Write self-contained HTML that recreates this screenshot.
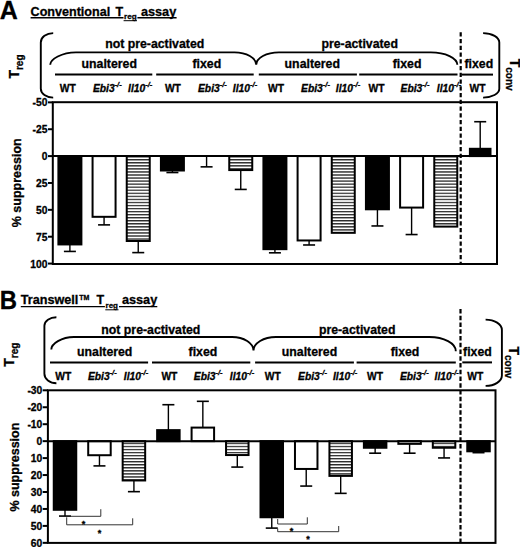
<!DOCTYPE html>
<html><head><meta charset="utf-8"><style>
html,body{margin:0;padding:0;background:#fff;}
svg{display:block;}
text{font-family:"Liberation Sans", sans-serif;fill:#000;stroke:#000;stroke-width:0.3px;}
</style></head><body>
<svg width="520" height="547" viewBox="0 0 520 547">
<defs>
<pattern id="hatch" patternUnits="userSpaceOnUse" width="6" height="3.05" y="0.5">
<rect width="6" height="3.05" fill="#fff"/><rect y="0" width="6" height="1.3" fill="#2a2a2a"/>
</pattern>
</defs>
<rect width="520" height="547" fill="#fff"/>
<path d="M53.2,33.1 C46.35,33.1 40.8,37.26 40.8,42.4 L40.8,88.7 C40.8,93.62 46.35,97.6 53.2,97.6" fill="none" stroke="#000" stroke-width="1.9"/>
<path d="M483.1,33.1 C492.05,33.1 499.3,37.31 499.3,42.5 L499.3,88.8 C499.3,93.66 492.05,97.6 483.1,97.6" fill="none" stroke="#000" stroke-width="1.9"/>
<path d="M50.2,64.8 C50.2,59.25 61.75,52.4 76,52.4 L234.5,52.4 C246.48,52.4 256.2,57.95 256.2,64.8 C256.2,57.95 266.41,52.4 279,52.4 L430.8,52.4 C445.44,52.4 457.3,57.95 457.3,64.8" fill="none" stroke="#000" stroke-width="1.9"/>
<text x="154.70" y="47.60" font-size="12.3" text-anchor="middle" font-weight="bold" font-style="normal" >not pre-activated</text>
<text x="359.70" y="47.60" font-size="12.3" text-anchor="middle" font-weight="bold" font-style="normal" >pre-activated</text>
<text x="109.25" y="67.60" font-size="12.3" text-anchor="middle" font-weight="bold" font-style="normal" >unaltered</text>
<text x="206.80" y="67.60" font-size="12.3" text-anchor="middle" font-weight="bold" font-style="normal" >fixed</text>
<text x="312.30" y="67.60" font-size="12.3" text-anchor="middle" font-weight="bold" font-style="normal" >unaltered</text>
<text x="407.10" y="67.60" font-size="12.3" text-anchor="middle" font-weight="bold" font-style="normal" >fixed</text>
<text x="478.80" y="67.60" font-size="12.3" text-anchor="middle" font-weight="bold" font-style="normal" >fixed</text>
<line x1="55" y1="74.6" x2="152.3" y2="74.6" stroke="#000" stroke-width="2"/>
<line x1="156.2" y1="74.6" x2="253.7" y2="74.6" stroke="#000" stroke-width="2"/>
<line x1="258.8" y1="74.6" x2="356.9" y2="74.6" stroke="#000" stroke-width="2"/>
<line x1="359.2" y1="74.6" x2="457.5" y2="74.6" stroke="#000" stroke-width="2"/>
<line x1="461.3" y1="74.6" x2="493" y2="74.6" stroke="#000" stroke-width="2"/>
<text x="67.80" y="92.20" font-size="10.3" text-anchor="middle" font-weight="bold" font-style="normal" >WT</text>
<text x="107.30" y="92.20" font-size="10.3" text-anchor="middle" font-weight="bold" font-style="italic">Ebi3<tspan font-size="7.5" dy="-5.6" font-style="italic">-/-</tspan></text>
<text x="140.20" y="92.20" font-size="10.3" text-anchor="middle" font-weight="bold" font-style="italic">Il10<tspan font-size="7.5" dy="-5.6" font-style="italic">-/-</tspan></text>
<text x="172.90" y="92.20" font-size="10.3" text-anchor="middle" font-weight="bold" font-style="normal" >WT</text>
<text x="212.40" y="92.20" font-size="10.3" text-anchor="middle" font-weight="bold" font-style="italic">Ebi3<tspan font-size="7.5" dy="-5.6" font-style="italic">-/-</tspan></text>
<text x="245.00" y="92.20" font-size="10.3" text-anchor="middle" font-weight="bold" font-style="italic">Il10<tspan font-size="7.5" dy="-5.6" font-style="italic">-/-</tspan></text>
<text x="276.00" y="92.20" font-size="10.3" text-anchor="middle" font-weight="bold" font-style="normal" >WT</text>
<text x="315.50" y="92.20" font-size="10.3" text-anchor="middle" font-weight="bold" font-style="italic">Ebi3<tspan font-size="7.5" dy="-5.6" font-style="italic">-/-</tspan></text>
<text x="348.00" y="92.20" font-size="10.3" text-anchor="middle" font-weight="bold" font-style="italic">Il10<tspan font-size="7.5" dy="-5.6" font-style="italic">-/-</tspan></text>
<text x="376.50" y="92.20" font-size="10.3" text-anchor="middle" font-weight="bold" font-style="normal" >WT</text>
<text x="415.00" y="92.20" font-size="10.3" text-anchor="middle" font-weight="bold" font-style="italic">Ebi3<tspan font-size="7.5" dy="-5.6" font-style="italic">-/-</tspan></text>
<text x="449.00" y="92.20" font-size="10.3" text-anchor="middle" font-weight="bold" font-style="italic">Il10<tspan font-size="7.5" dy="-5.6" font-style="italic">-/-</tspan></text>
<text x="477.50" y="92.20" font-size="10.3" text-anchor="middle" font-weight="bold" font-style="normal" >WT</text>
<line x1="460.7" y1="32.2" x2="460.7" y2="264" stroke="#000" stroke-width="2.2" stroke-dasharray="4.3 2.45"/>
<rect x="52.8" y="102.2" width="444.2" height="161.8" fill="none" stroke="#000" stroke-width="2"/>
<line x1="48.0" y1="102.36" x2="52.8" y2="102.36" stroke="#000" stroke-width="2"/>
<text x="47.50" y="106.46" font-size="10.3" text-anchor="end" font-weight="bold" font-style="normal" >-50</text>
<line x1="48.0" y1="129.23" x2="52.8" y2="129.23" stroke="#000" stroke-width="2"/>
<text x="47.50" y="133.33" font-size="10.3" text-anchor="end" font-weight="bold" font-style="normal" >-25</text>
<line x1="48.0" y1="156.10" x2="52.8" y2="156.10" stroke="#000" stroke-width="2"/>
<text x="47.50" y="160.20" font-size="10.3" text-anchor="end" font-weight="bold" font-style="normal" >0</text>
<line x1="48.0" y1="182.97" x2="52.8" y2="182.97" stroke="#000" stroke-width="2"/>
<text x="47.50" y="187.07" font-size="10.3" text-anchor="end" font-weight="bold" font-style="normal" >25</text>
<line x1="48.0" y1="209.83" x2="52.8" y2="209.83" stroke="#000" stroke-width="2"/>
<text x="47.50" y="213.93" font-size="10.3" text-anchor="end" font-weight="bold" font-style="normal" >50</text>
<line x1="48.0" y1="236.70" x2="52.8" y2="236.70" stroke="#000" stroke-width="2"/>
<text x="47.50" y="240.80" font-size="10.3" text-anchor="end" font-weight="bold" font-style="normal" >75</text>
<line x1="48.0" y1="263.57" x2="52.8" y2="263.57" stroke="#000" stroke-width="2"/>
<text x="47.50" y="267.67" font-size="10.3" text-anchor="end" font-weight="bold" font-style="normal" >100</text>
<line x1="69.90" y1="244.44" x2="69.90" y2="251.43" stroke="#000" stroke-width="1.4"/>
<line x1="63.90" y1="251.43" x2="75.90" y2="251.43" stroke="#000" stroke-width="1.6"/>
<rect x="58.40" y="156.10" width="23.00" height="88.34" fill="#000" stroke="#000" stroke-width="2"/>
<line x1="104.07" y1="216.82" x2="104.07" y2="224.88" stroke="#000" stroke-width="1.4"/>
<line x1="98.07" y1="224.88" x2="110.07" y2="224.88" stroke="#000" stroke-width="1.6"/>
<rect x="92.57" y="156.10" width="23.00" height="60.72" fill="#fff" stroke="#000" stroke-width="2"/>
<line x1="138.24" y1="241.00" x2="138.24" y2="252.61" stroke="#000" stroke-width="1.4"/>
<line x1="132.24" y1="252.61" x2="144.24" y2="252.61" stroke="#000" stroke-width="1.6"/>
<rect x="126.74" y="156.10" width="23.00" height="84.90" fill="url(#hatch)" stroke="#000" stroke-width="2"/>
<line x1="172.41" y1="170.50" x2="172.41" y2="172.54" stroke="#000" stroke-width="1.4"/>
<line x1="166.41" y1="172.54" x2="178.41" y2="172.54" stroke="#000" stroke-width="1.6"/>
<rect x="160.91" y="156.10" width="23.00" height="14.40" fill="#000" stroke="#000" stroke-width="2"/>
<line x1="206.58" y1="156.10" x2="206.58" y2="166.85" stroke="#000" stroke-width="1.4"/>
<line x1="200.58" y1="166.85" x2="212.58" y2="166.85" stroke="#000" stroke-width="1.6"/>
<line x1="240.75" y1="170.07" x2="240.75" y2="189.42" stroke="#000" stroke-width="1.4"/>
<line x1="234.75" y1="189.42" x2="246.75" y2="189.42" stroke="#000" stroke-width="1.6"/>
<rect x="229.25" y="156.10" width="23.00" height="13.97" fill="url(#hatch)" stroke="#000" stroke-width="2"/>
<line x1="274.92" y1="249.17" x2="274.92" y2="252.82" stroke="#000" stroke-width="1.4"/>
<line x1="268.92" y1="252.82" x2="280.92" y2="252.82" stroke="#000" stroke-width="1.6"/>
<rect x="263.42" y="156.10" width="23.00" height="93.07" fill="#000" stroke="#000" stroke-width="2"/>
<line x1="309.09" y1="240.46" x2="309.09" y2="244.98" stroke="#000" stroke-width="1.4"/>
<line x1="303.09" y1="244.98" x2="315.09" y2="244.98" stroke="#000" stroke-width="1.6"/>
<rect x="297.59" y="156.10" width="23.00" height="84.36" fill="#fff" stroke="#000" stroke-width="2"/>
<rect x="331.76" y="156.10" width="23.00" height="76.73" fill="url(#hatch)" stroke="#000" stroke-width="2"/>
<line x1="377.43" y1="209.30" x2="377.43" y2="225.96" stroke="#000" stroke-width="1.4"/>
<line x1="371.43" y1="225.96" x2="383.43" y2="225.96" stroke="#000" stroke-width="1.6"/>
<rect x="365.93" y="156.10" width="23.00" height="53.20" fill="#000" stroke="#000" stroke-width="2"/>
<line x1="411.60" y1="207.58" x2="411.60" y2="234.55" stroke="#000" stroke-width="1.4"/>
<line x1="405.60" y1="234.55" x2="417.60" y2="234.55" stroke="#000" stroke-width="1.6"/>
<rect x="400.10" y="156.10" width="23.00" height="51.48" fill="#fff" stroke="#000" stroke-width="2"/>
<rect x="434.27" y="156.10" width="23.00" height="70.50" fill="url(#hatch)" stroke="#000" stroke-width="2"/>
<line x1="480.20" y1="148.79" x2="480.20" y2="121.71" stroke="#000" stroke-width="1.4"/>
<line x1="474.20" y1="121.71" x2="486.20" y2="121.71" stroke="#000" stroke-width="1.6"/>
<rect x="469.90" y="148.79" width="20.60" height="7.31" fill="#000" stroke="#000" stroke-width="2"/>
<line x1="52.8" y1="156.10" x2="497" y2="156.10" stroke="#000" stroke-width="2"/>
<path d="M56.4,317.2 C49.77,317.2 44.4,321.05 44.4,325.8 L44.4,373.8 C44.4,379.05 49.77,383.3 56.4,383.3" fill="none" stroke="#000" stroke-width="1.9"/>
<path d="M485.6,319.6 C494.60,319.6 501.9,324.26 501.9,330 L501.9,375.5 C501.9,381.24 494.60,385.9 485.6,385.9" fill="none" stroke="#000" stroke-width="1.9"/>
<path d="M51.3,349.4 C51.3,343.85 61.46,337 74,337 L232,337 C243.87,337 253.5,343.09 253.5,350.6 C253.5,343.09 263.57,337 276,337 L429.3,337 C443.94,337 455.8,343.36 455.8,351.2" fill="none" stroke="#000" stroke-width="1.9"/>
<text x="150.85" y="334.30" font-size="12.3" text-anchor="middle" font-weight="bold" font-style="normal" >not pre-activated</text>
<text x="357.15" y="334.30" font-size="12.3" text-anchor="middle" font-weight="bold" font-style="normal" >pre-activated</text>
<text x="104.70" y="355.50" font-size="12.3" text-anchor="middle" font-weight="bold" font-style="normal" >unaltered</text>
<text x="202.90" y="355.50" font-size="12.3" text-anchor="middle" font-weight="bold" font-style="normal" >fixed</text>
<text x="309.50" y="355.50" font-size="12.3" text-anchor="middle" font-weight="bold" font-style="normal" >unaltered</text>
<text x="405.00" y="355.50" font-size="12.3" text-anchor="middle" font-weight="bold" font-style="normal" >fixed</text>
<text x="477.40" y="355.50" font-size="12.3" text-anchor="middle" font-weight="bold" font-style="normal" >fixed</text>
<line x1="50" y1="362.4" x2="148.1" y2="362.4" stroke="#000" stroke-width="2"/>
<line x1="152" y1="362.4" x2="250.3" y2="362.4" stroke="#000" stroke-width="2"/>
<line x1="255.1" y1="362.4" x2="353.9" y2="362.4" stroke="#000" stroke-width="2"/>
<line x1="356.6" y1="362.4" x2="455.8" y2="362.4" stroke="#000" stroke-width="2"/>
<line x1="462.3" y1="362.4" x2="492" y2="362.4" stroke="#000" stroke-width="2"/>
<text x="63.30" y="380.20" font-size="10.3" text-anchor="middle" font-weight="bold" font-style="normal" >WT</text>
<text x="102.30" y="380.20" font-size="10.3" text-anchor="middle" font-weight="bold" font-style="italic">Ebi3<tspan font-size="7.5" dy="-5.6" font-style="italic">-/-</tspan></text>
<text x="136.00" y="380.20" font-size="10.3" text-anchor="middle" font-weight="bold" font-style="italic">Il10<tspan font-size="7.5" dy="-5.6" font-style="italic">-/-</tspan></text>
<text x="169.40" y="380.20" font-size="10.3" text-anchor="middle" font-weight="bold" font-style="normal" >WT</text>
<text x="208.20" y="380.20" font-size="10.3" text-anchor="middle" font-weight="bold" font-style="italic">Ebi3<tspan font-size="7.5" dy="-5.6" font-style="italic">-/-</tspan></text>
<text x="242.00" y="380.20" font-size="10.3" text-anchor="middle" font-weight="bold" font-style="italic">Il10<tspan font-size="7.5" dy="-5.6" font-style="italic">-/-</tspan></text>
<text x="272.80" y="380.20" font-size="10.3" text-anchor="middle" font-weight="bold" font-style="normal" >WT</text>
<text x="312.50" y="380.20" font-size="10.3" text-anchor="middle" font-weight="bold" font-style="italic">Ebi3<tspan font-size="7.5" dy="-5.6" font-style="italic">-/-</tspan></text>
<text x="345.10" y="380.20" font-size="10.3" text-anchor="middle" font-weight="bold" font-style="italic">Il10<tspan font-size="7.5" dy="-5.6" font-style="italic">-/-</tspan></text>
<text x="375.00" y="380.20" font-size="10.3" text-anchor="middle" font-weight="bold" font-style="normal" >WT</text>
<text x="414.30" y="380.20" font-size="10.3" text-anchor="middle" font-weight="bold" font-style="italic">Ebi3<tspan font-size="7.5" dy="-5.6" font-style="italic">-/-</tspan></text>
<text x="446.70" y="380.20" font-size="10.3" text-anchor="middle" font-weight="bold" font-style="italic">Il10<tspan font-size="7.5" dy="-5.6" font-style="italic">-/-</tspan></text>
<text x="475.30" y="380.20" font-size="10.3" text-anchor="middle" font-weight="bold" font-style="normal" >WT</text>
<line x1="460.5" y1="309.1" x2="460.5" y2="543" stroke="#000" stroke-width="2.2" stroke-dasharray="4.3 2.45"/>
<rect x="47.9" y="390.3" width="447.6" height="152.59999999999997" fill="none" stroke="#000" stroke-width="2"/>
<line x1="42.699999999999996" y1="390.30" x2="47.9" y2="390.30" stroke="#000" stroke-width="2"/>
<text x="42.30" y="394.10" font-size="10.3" text-anchor="end" font-weight="bold" font-style="normal" >-30</text>
<line x1="42.699999999999996" y1="407.25" x2="47.9" y2="407.25" stroke="#000" stroke-width="2"/>
<text x="42.30" y="411.05" font-size="10.3" text-anchor="end" font-weight="bold" font-style="normal" >-20</text>
<line x1="42.699999999999996" y1="424.20" x2="47.9" y2="424.20" stroke="#000" stroke-width="2"/>
<text x="42.30" y="428.00" font-size="10.3" text-anchor="end" font-weight="bold" font-style="normal" >-10</text>
<line x1="42.699999999999996" y1="441.15" x2="47.9" y2="441.15" stroke="#000" stroke-width="2"/>
<text x="42.30" y="444.95" font-size="10.3" text-anchor="end" font-weight="bold" font-style="normal" >0</text>
<line x1="42.699999999999996" y1="458.10" x2="47.9" y2="458.10" stroke="#000" stroke-width="2"/>
<text x="42.30" y="461.90" font-size="10.3" text-anchor="end" font-weight="bold" font-style="normal" >10</text>
<line x1="42.699999999999996" y1="475.05" x2="47.9" y2="475.05" stroke="#000" stroke-width="2"/>
<text x="42.30" y="478.85" font-size="10.3" text-anchor="end" font-weight="bold" font-style="normal" >20</text>
<line x1="42.699999999999996" y1="492.00" x2="47.9" y2="492.00" stroke="#000" stroke-width="2"/>
<text x="42.30" y="495.80" font-size="10.3" text-anchor="end" font-weight="bold" font-style="normal" >30</text>
<line x1="42.699999999999996" y1="508.95" x2="47.9" y2="508.95" stroke="#000" stroke-width="2"/>
<text x="42.30" y="512.75" font-size="10.3" text-anchor="end" font-weight="bold" font-style="normal" >40</text>
<line x1="42.699999999999996" y1="525.90" x2="47.9" y2="525.90" stroke="#000" stroke-width="2"/>
<text x="42.30" y="529.70" font-size="10.3" text-anchor="end" font-weight="bold" font-style="normal" >50</text>
<line x1="42.699999999999996" y1="542.85" x2="47.9" y2="542.85" stroke="#000" stroke-width="2"/>
<text x="42.30" y="546.65" font-size="10.3" text-anchor="end" font-weight="bold" font-style="normal" >60</text>
<line x1="65.00" y1="509.80" x2="65.00" y2="516.07" stroke="#000" stroke-width="1.4"/>
<line x1="59.00" y1="516.07" x2="71.00" y2="516.07" stroke="#000" stroke-width="1.6"/>
<rect x="53.75" y="441.15" width="22.50" height="68.65" fill="#000" stroke="#000" stroke-width="2"/>
<line x1="99.46" y1="455.22" x2="99.46" y2="465.90" stroke="#000" stroke-width="1.4"/>
<line x1="93.46" y1="465.90" x2="105.46" y2="465.90" stroke="#000" stroke-width="1.6"/>
<rect x="88.21" y="441.15" width="22.50" height="14.07" fill="#fff" stroke="#000" stroke-width="2"/>
<line x1="133.92" y1="480.47" x2="133.92" y2="491.66" stroke="#000" stroke-width="1.4"/>
<line x1="127.92" y1="491.66" x2="139.92" y2="491.66" stroke="#000" stroke-width="1.6"/>
<rect x="122.67" y="441.15" width="22.50" height="39.32" fill="url(#hatch)" stroke="#000" stroke-width="2"/>
<line x1="168.38" y1="430.13" x2="168.38" y2="404.71" stroke="#000" stroke-width="1.4"/>
<line x1="162.38" y1="404.71" x2="174.38" y2="404.71" stroke="#000" stroke-width="1.6"/>
<rect x="157.13" y="430.13" width="22.50" height="11.02" fill="#000" stroke="#000" stroke-width="2"/>
<line x1="202.84" y1="427.59" x2="202.84" y2="401.32" stroke="#000" stroke-width="1.4"/>
<line x1="196.84" y1="401.32" x2="208.84" y2="401.32" stroke="#000" stroke-width="1.6"/>
<rect x="191.59" y="427.59" width="22.50" height="13.56" fill="#fff" stroke="#000" stroke-width="2"/>
<line x1="237.30" y1="455.05" x2="237.30" y2="467.08" stroke="#000" stroke-width="1.4"/>
<line x1="231.30" y1="467.08" x2="243.30" y2="467.08" stroke="#000" stroke-width="1.6"/>
<rect x="226.05" y="441.15" width="22.50" height="13.90" fill="url(#hatch)" stroke="#000" stroke-width="2"/>
<line x1="271.76" y1="517.26" x2="271.76" y2="528.10" stroke="#000" stroke-width="1.4"/>
<line x1="265.76" y1="528.10" x2="277.76" y2="528.10" stroke="#000" stroke-width="1.6"/>
<rect x="260.51" y="441.15" width="22.50" height="76.11" fill="#000" stroke="#000" stroke-width="2"/>
<line x1="306.22" y1="468.95" x2="306.22" y2="486.07" stroke="#000" stroke-width="1.4"/>
<line x1="300.22" y1="486.07" x2="312.22" y2="486.07" stroke="#000" stroke-width="1.6"/>
<rect x="294.97" y="441.15" width="22.50" height="27.80" fill="#fff" stroke="#000" stroke-width="2"/>
<line x1="340.68" y1="475.90" x2="340.68" y2="493.36" stroke="#000" stroke-width="1.4"/>
<line x1="334.68" y1="493.36" x2="346.68" y2="493.36" stroke="#000" stroke-width="1.6"/>
<rect x="329.43" y="441.15" width="22.50" height="34.75" fill="url(#hatch)" stroke="#000" stroke-width="2"/>
<line x1="375.14" y1="447.76" x2="375.14" y2="453.18" stroke="#000" stroke-width="1.4"/>
<line x1="369.14" y1="453.18" x2="381.14" y2="453.18" stroke="#000" stroke-width="1.6"/>
<rect x="363.89" y="441.15" width="22.50" height="6.61" fill="#000" stroke="#000" stroke-width="2"/>
<line x1="409.60" y1="443.86" x2="409.60" y2="453.18" stroke="#000" stroke-width="1.4"/>
<line x1="403.60" y1="453.18" x2="415.60" y2="453.18" stroke="#000" stroke-width="1.6"/>
<rect x="398.35" y="441.15" width="22.50" height="2.71" fill="#fff" stroke="#000" stroke-width="2"/>
<line x1="444.06" y1="447.76" x2="444.06" y2="457.93" stroke="#000" stroke-width="1.4"/>
<line x1="438.06" y1="457.93" x2="450.06" y2="457.93" stroke="#000" stroke-width="1.6"/>
<rect x="432.81" y="441.15" width="22.50" height="6.61" fill="url(#hatch)" stroke="#000" stroke-width="2"/>
<line x1="478.52" y1="451.32" x2="478.52" y2="452.68" stroke="#000" stroke-width="1.4"/>
<line x1="472.52" y1="452.68" x2="484.52" y2="452.68" stroke="#000" stroke-width="1.6"/>
<rect x="467.27" y="441.15" width="22.50" height="10.17" fill="#000" stroke="#000" stroke-width="2"/>
<line x1="47.9" y1="441.15" x2="495.5" y2="441.15" stroke="#000" stroke-width="2"/>
<text x="-0.3" y="18.6" font-size="25" font-weight="bold" stroke="#000" stroke-width="0.5">A</text>
<text x="30.6" y="15.8" font-size="12.5" font-weight="bold" textLength="79.6" lengthAdjust="spacingAndGlyphs">Conventional</text>
<text x="115.5" y="15.8" font-size="12.5" font-weight="bold">T</text>
<text x="124" y="19.3" font-size="8" font-weight="bold" textLength="12.6" lengthAdjust="spacingAndGlyphs">reg</text>
<text x="140.9" y="15.8" font-size="12.5" font-weight="bold" textLength="35.3" lengthAdjust="spacingAndGlyphs">assay</text>
<line x1="30.6" y1="17.8" x2="123.5" y2="17.8" stroke="#000" stroke-width="1.4"/>
<line x1="123.6" y1="20.7" x2="137" y2="20.7" stroke="#000" stroke-width="1"/>
<line x1="137.4" y1="17.8" x2="176.6" y2="17.8" stroke="#000" stroke-width="1.4"/>
<text transform="translate(-0.2,308.6) scale(0.92,1)" font-size="26" font-weight="bold">B</text>
<text x="20.8" y="304.2" font-size="12.5" font-weight="bold" textLength="57.6" lengthAdjust="spacingAndGlyphs">Transwell</text>
<text x="79.3" y="299.5" font-size="7" font-weight="bold">TM</text>
<text x="96.5" y="304.2" font-size="12.5" font-weight="bold">T</text>
<text x="105.6" y="308.3" font-size="8" font-weight="bold" textLength="12.4" lengthAdjust="spacingAndGlyphs">reg</text>
<text x="121.9" y="304.2" font-size="12.5" font-weight="bold" textLength="35.3" lengthAdjust="spacingAndGlyphs">assay</text>
<line x1="20.8" y1="306.6" x2="104.9" y2="306.6" stroke="#000" stroke-width="1.4"/>
<line x1="105.3" y1="309.8" x2="118.5" y2="309.8" stroke="#000" stroke-width="1"/>
<line x1="119" y1="306.6" x2="157.3" y2="306.6" stroke="#000" stroke-width="1.4"/>
<text transform="translate(18.5,78.6) rotate(-90)" font-size="14" font-weight="bold">T<tspan font-size="10" dy="4.1">reg</tspan></text>
<text transform="translate(13.5,366.8) rotate(-90)" font-size="14" font-weight="bold">T<tspan font-size="10" dy="4.3">reg</tspan></text>
<text transform="translate(510,58.7) rotate(90)" font-size="14" font-weight="bold">T<tspan font-size="10" dy="4.2">conv</tspan></text>
<text transform="translate(508.5,346.5) rotate(90)" font-size="14" font-weight="bold">T<tspan font-size="10" dy="3.5">conv</tspan></text>
<text transform="translate(21.3,182.8) rotate(-90)" font-size="12.5" font-weight="bold" text-anchor="middle">% suppression</text>
<text transform="translate(18.7,467.1) rotate(-90)" font-size="12.5" font-weight="bold" text-anchor="middle">% suppression</text>
<path d="M70.8,516.3 L100.8,516.3 L100.8,509.2" fill="none" stroke="#333" stroke-width="1"/>
<path d="M66.7,517.3 L66.7,524.8 L132.7,524.8 L132.7,518.3" fill="none" stroke="#333" stroke-width="1"/>
<path d="M277.7,519 L277.7,524 L307.3,524 L307.3,517.3" fill="none" stroke="#333" stroke-width="1"/>
<path d="M277.7,528.5 L277.7,531.7 L338.7,531.7 L338.7,526" fill="none" stroke="#333" stroke-width="1"/>
<text x="83.6" y="526.7" font-size="9" font-weight="bold" text-anchor="middle">*</text>
<text x="99.5" y="535.5" font-size="9" font-weight="bold" text-anchor="middle">*</text>
<text x="291.6" y="534.3000000000001" font-size="9" font-weight="bold" text-anchor="middle">*</text>
<text x="308" y="541.5" font-size="9" font-weight="bold" text-anchor="middle">*</text>
</svg>
</body></html>
